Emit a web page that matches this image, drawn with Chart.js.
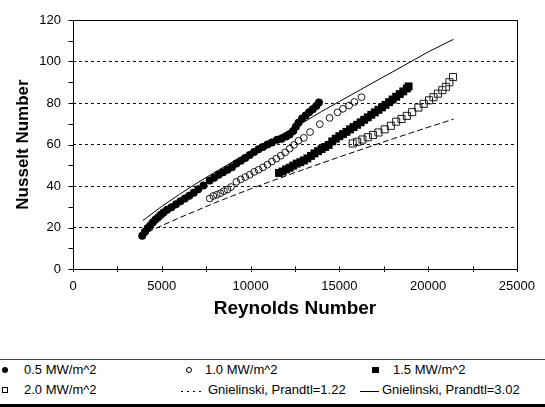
<!DOCTYPE html>
<html>
<head>
<meta charset="utf-8">
<script src="https://cdn.jsdelivr.net/npm/chart.js@4.4.0/dist/chart.umd.min.js"></script>
<style>
    body { margin: 0; background: #fff; font-family: "Liberation Sans", Arial, sans-serif; }
    #wrap { position: relative; width: 545px; height: 407px; overflow: hidden; background: #fff; }
    #chart { position: absolute; left: 0; top: 0; }
    .lg { position: absolute; font-size: 13px; line-height: 16px; color: #000; white-space: nowrap; }
    .mk { position: absolute; box-sizing: border-box; }
</style>
</head>
<body>
<div id="wrap">
    <canvas id="chart" width="545" height="340"></canvas>

    <!-- legend -->
    <div class="mk" style="left:0;top:359px;width:545px;height:1px;background:#444;"></div>
    <div class="mk" style="left:0;top:404px;width:545px;height:3px;background:#000;"></div>

    <div class="mk" style="left:2px;top:367px;width:6px;height:6px;border-radius:50%;background:#000;"></div>
    <div class="lg" style="left:24px;top:362px;">0.5 MW/m^2</div>
    <div class="mk" style="left:186px;top:367px;width:6px;height:6px;border-radius:50%;border:1px solid #000;"></div>
    <div class="lg" style="left:205px;top:362px;">1.0 MW/m^2</div>
    <div class="mk" style="left:372px;top:367px;width:7px;height:6px;background:#000;"></div>
    <div class="lg" style="left:393px;top:362px;">1.5 MW/m^2</div>

    <div class="mk" style="left:2px;top:387px;width:6px;height:6px;border:1px solid #000;"></div>
    <div class="lg" style="left:24px;top:382px;">2.0 MW/m^2</div>
    <div class="mk" style="left:181px;top:391px;width:24px;height:1px;background:repeating-linear-gradient(90deg,#000 0 2px,transparent 2px 6px);"></div>
    <div class="lg" style="left:208px;top:382px;">Gnielinski, Prandtl=1.22</div>
    <div class="mk" style="left:360px;top:391px;width:19px;height:1px;background:#000;"></div>
    <div class="lg" style="left:382px;top:382px;">Gnielinski, Prandtl=3.02</div>
</div>

<script>
// 0.5 MW/m^2 (filled circles)
const re05 = [3900, 4050, 4200, 4350, 4500, 4650, 4800, 4950, 5100, 5300, 5550, 5800, 6050, 6300, 6550,
    6800, 7050, 7350, 7700, 7950, 8200, 8450, 8700, 8950, 9200, 9450, 9700, 9950, 10200, 10450,
    10700, 10950, 11200, 11500, 11750, 12000, 12200, 12400, 12550, 12700, 12900, 13100, 13300, 13500, 13700, 13850];
const nu05 = [16, 18, 19.6, 21, 22.5, 23.8, 25, 26.2, 27.2, 28.5, 29.8, 31.2, 32.6, 34, 35.3,
    36.7, 38.4, 40.3, 42.6, 44, 45.4, 46.6, 47.8, 49, 50.8, 52.2, 53.5, 55, 56.4, 57.7,
    58.8, 60, 61, 62.3, 62.8, 63.8, 64.8, 66.5, 68.5, 70.5, 72.5, 74, 75.5, 77, 78.5, 80.3];

// 1.0 MW/m^2 (open circles)
const re10 = [7700, 7900, 8100, 8300, 8500, 8700, 8900, 9200, 9450, 9700, 9950, 10200, 10450, 10700, 10950,
    11200, 11450, 11700, 11950, 12200, 12450, 12700, 13000, 13350, 13900, 14450, 14900, 15200, 15550, 15850, 16250];
const nu10 = [34, 35.2, 35.8, 36.5, 37.5, 38.3, 39.5, 42, 43.2, 44.3, 45.4, 46.8, 47.8, 49, 50.3,
    51.8, 53.2, 54.6, 56.2, 58, 59.8, 61.8, 63.2, 66, 69.8, 72.8, 75.5, 77.2, 78.8, 80.5, 82.8];

// 1.5 MW/m^2 (filled squares)
const re15 = [11600, 11800, 12000, 12200, 12400, 12600, 12800, 13000, 13200, 13400, 13600, 13800, 14000, 14200, 14400,
    14600, 14800, 15000, 15200, 15400, 15600, 15800, 16000, 16200, 16400, 16600, 16800, 17000, 17200, 17400,
    17600, 17800, 18000, 18200, 18400, 18600, 18800, 18900];
const nu15 = [46.3, 47, 48, 48.8, 49.8, 50.8, 51.5, 52.3, 53.3, 54.5, 55.7, 56.8, 57.8, 58.8, 59.8,
    61.5, 62.8, 64, 65, 66.1, 67.3, 68.4, 69.5, 70.7, 71.9, 73.1, 74.3, 75.5, 76.7, 77.9,
    79.1, 80.4, 81.7, 83, 84.3, 85.6, 87, 88];

// 2.0 MW/m^2 (open squares)
const re20 = [15750, 16000, 16300, 16600, 16900, 17200, 17550, 17900, 18200, 18500, 18800, 19100, 19450, 19750,
    20050, 20300, 20550, 20800, 21000, 21200, 21400];
const nu20 = [60.5, 61.3, 62.4, 63.5, 64.6, 65.8, 67.3, 69, 71, 72.3, 73.8, 75.6, 77.8, 79.6,
    81.3, 82.8, 84.5, 86.2, 87.8, 90, 92.5];

// Gnielinski correlation curves
const rePr122 = [4200, 5000, 6000, 7000, 8000, 9000, 10000, 11000, 12000, 13000, 14000, 15000, 16000, 17000, 18000, 19000, 20000, 21430];
const nuPr122 = [17.8, 20.9, 24.7, 28.3, 31.9, 35.3, 38.6, 41.8, 44.9, 48, 51, 54, 56.9, 59.8, 62.7, 65.5, 68.3, 72.2];
const rePr302 = [3930, 5000, 6000, 7000, 8000, 9000, 10000, 11000, 12000, 13000, 14000, 15000, 16000, 17000, 18000, 19000, 20000, 21430];
const nuPr302 = [23.3, 30.2, 36, 41.5, 46.7, 51.7, 56.5, 61.3, 66, 70.8, 75.9, 80.7, 85.5, 90.3, 95, 99.8, 104.6, 110.7];

// axis ticks
const xMax = 25000, xStep = 5000, xMinorStep = 2500;
const yMax = 120, yStep = 20, yMinorStep = 10;

function toPoints(xs, ys) {
    return xs.map((x, i) => ({ x: x, y: ys[i] }));
}

// frame, crossing x ticks and outside y ticks (major + minor)
const axisFrame = {
    id: 'axisFrame',
    beforeDatasetsDraw(chart) {
        const { ctx, chartArea: a, scales: { x, y } } = chart;
        ctx.save();
        ctx.strokeStyle = '#000';
        ctx.lineWidth = 1;
        ctx.beginPath();
        ctx.rect(Math.round(a.left) + 0.5, Math.round(a.top) + 0.5,
            Math.round(a.right - a.left), Math.round(a.bottom - a.top));
        for (let v = 0; v <= xMax; v += xMinorStep) {
            const px = Math.round(x.getPixelForValue(v)) + 0.5;
            ctx.moveTo(px, a.bottom - 2.5);
            ctx.lineTo(px, a.bottom + 3);
        }
        for (let v = 0; v <= yMax; v += yMinorStep) {
            const py = Math.round(y.getPixelForValue(v)) + 0.5;
            ctx.moveTo(a.left - 4.5, py);
            ctx.lineTo(a.left, py);
        }
        ctx.stroke();
        ctx.restore();
    }
};

Chart.defaults.font.family = '"Liberation Sans", Arial, sans-serif';
Chart.defaults.font.size = 13;
Chart.defaults.color = '#000';

new Chart(document.getElementById('chart').getContext('2d'), {
    type: 'scatter',
    data: {
        datasets: [
            {
                label: '0.5 MW/m^2',
                data: toPoints(re05, nu05),
                pointStyle: 'circle',
                pointRadius: 4,
                backgroundColor: '#000',
                borderColor: '#000',
                borderWidth: 0
            },
            {
                label: '1.0 MW/m^2',
                data: toPoints(re10, nu10),
                pointStyle: 'circle',
                pointRadius: 3.4,
                backgroundColor: 'rgba(0,0,0,0)',
                borderColor: '#000',
                borderWidth: 0.9
            },
            {
                label: '1.5 MW/m^2',
                data: toPoints(re15, nu15),
                pointStyle: 'rect',
                pointRadius: 5.6,
                backgroundColor: '#000',
                borderColor: '#000',
                borderWidth: 0
            },
            {
                label: '2.0 MW/m^2',
                data: toPoints(re20, nu20),
                pointStyle: 'rect',
                pointRadius: 5,
                backgroundColor: 'rgba(0,0,0,0)',
                borderColor: '#000',
                borderWidth: 0.9
            },
            {
                label: 'Gnielinski, Prandtl=1.22',
                data: toPoints(rePr122, nuPr122),
                showLine: true,
                pointRadius: 0,
                borderColor: '#000',
                borderWidth: 1,
                borderDash: [6, 3],
                tension: 0
            },
            {
                label: 'Gnielinski, Prandtl=3.02',
                data: toPoints(rePr302, nuPr302),
                showLine: true,
                pointRadius: 0,
                borderColor: '#000',
                borderWidth: 1,
                tension: 0
            }
        ]
    },
    options: {
        responsive: false,
        animation: false,
        devicePixelRatio: 1,
        layout: {
            padding: { left: 0, top: 20, right: 18, bottom: 0 }
        },
        plugins: {
            legend: { display: false },
            tooltip: { enabled: false }
        },
        scales: {
            x: {
                type: 'linear',
                min: 0,
                max: xMax,
                afterFit: function(scale) { scale.height = 71; },
                ticks: {
                    stepSize: xStep,
                    padding: 10,
                    maxRotation: 0,
                    font: { size: 13 },
                    callback: function(value) {
                        return value.toString();
                    }
                },
                grid: { display: false, drawTicks: false },
                border: { display: false },
                title: {
                    display: true,
                    text: 'Reynolds Number',
                    font: { size: 19, weight: 'bold' },
                    padding: { top: 0, bottom: 20 }
                }
            },
            y: {
                type: 'linear',
                min: 0,
                max: yMax,
                afterFit: function(scale) { scale.width = 73; },
                ticks: {
                    stepSize: yStep,
                    padding: 12,
                    font: { size: 13 },
                    callback: function(value) {
                        return value.toString();
                    }
                },
                grid: {
                    drawTicks: false,
                    lineWidth: 1,
                    color: function(context) {
                        const v = context.tick ? context.tick.value : 0;
                        return (v === 0 || v === yMax) ? 'rgba(0,0,0,0)' : '#111';
                    }
                },
                border: { display: false, dash: [3, 3] },
                title: {
                    display: true,
                    text: 'Nusselt Number',
                    font: { size: 17, weight: 'bold' },
                    padding: { top: 13, bottom: 0 }
                }
            }
        }
    },
    plugins: [axisFrame]
});
</script>
</body>
</html>
